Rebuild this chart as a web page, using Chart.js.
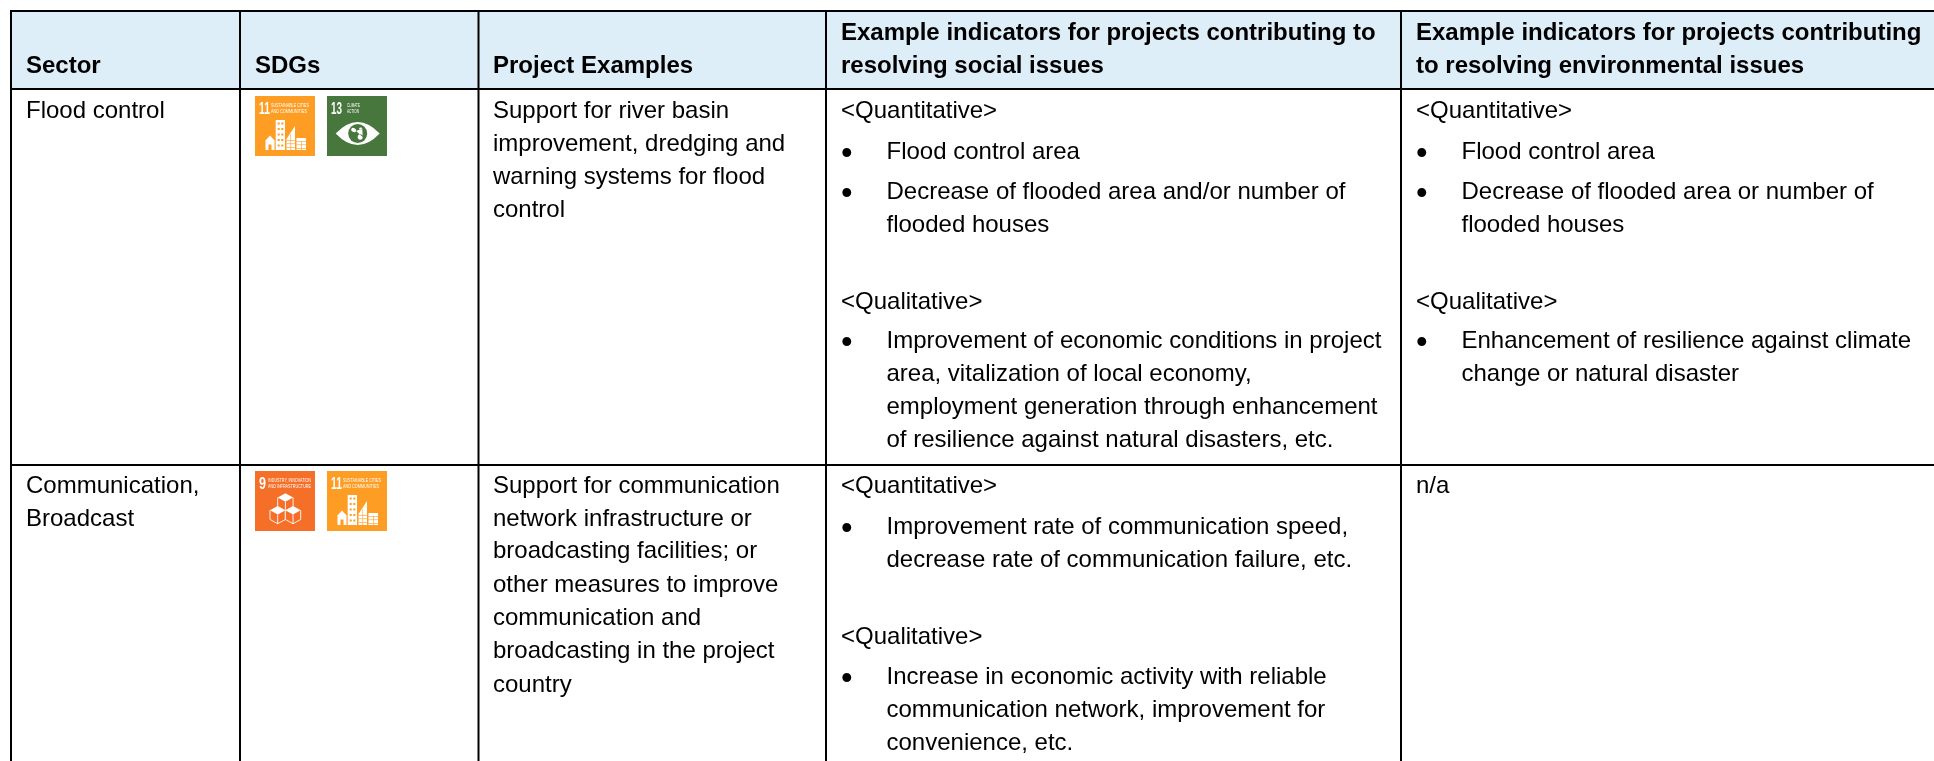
<!DOCTYPE html>
<html>
<head>
<meta charset="utf-8">
<title>Example indicators by sector</title>
<script src="https://cdn.jsdelivr.net/npm/chart.js@4"></script>
<style>
  html, body { margin: 0; padding: 0; background: #fff; overflow: hidden; }
  canvas { display: block; }
</style>
</head>
<body>
<canvas id="tabela" width="1934" height="761"></canvas>
<script>
// table content
const headers = [
  ["Sector"],
  ["SDGs"],
  ["Project Examples"],
  ["Example indicators for projects contributing to", "resolving social issues"],
  ["Example indicators for projects contributing", "to resolving environmental issues"]
];
const sectors = [
  ["Flood control"],
  ["Communication,", "Broadcast"]
];
const sdgs = [
  [11, 13],
  [9, 11]
];
const projects = [
  ["Support for river basin", "improvement, dredging and", "warning systems for flood", "control"],
  ["Support for communication", "network infrastructure or", "broadcasting facilities; or", "other measures to improve", "communication and", "broadcasting in the project", "country"]
];
const social = [
  ["<Quantitative>", "*Flood control area", "*Decrease of flooded area and/or number of", " flooded houses",
   "<Qualitative>", "*Improvement of economic conditions in project", " area, vitalization of local economy,", " employment generation through enhancement", " of resilience against natural disasters, etc."],
  ["<Quantitative>", "*Improvement rate of communication speed,", " decrease rate of communication failure, etc.",
   "<Qualitative>", "*Increase in economic activity with reliable", " communication network, improvement for", " convenience, etc."]
];
const environmental = [
  ["<Quantitative>", "*Flood control area", "*Decrease of flooded area or number of", " flooded houses",
   "<Qualitative>", "*Enhancement of resilience against climate", " change or natural disaster"],
  ["n/a"]
];

// grid and text baselines, in page units
const colEdges = [11, 240, 478.5, 826, 1401];
const rowEdges = [11, 89, 465];
const textX = [26, 255, 493, 841, 1416];
const headerBase = [[73], [73], [73], [40, 73], [40, 73]];
const sectorBase = [[118], [493, 526]];
const projectBase = [[118, 151, 184, 217], [493, 526, 558, 592, 625, 658, 692]];
const socialBase = [[118, 159, 199, 232, 309, 348, 381, 414, 447], [493, 534, 567, 644, 684, 717, 750]];
const envBase = [[118, 159, 199, 232, 309, 348, 381], [493]];
const tileX = [255, 327];
const tileTop = [96, 471];
const tileSize = 60;

const sdgColors = { 9: "#F56F28", 11: "#FD9D24", 13: "#48773E" };
const sdgTitles = {
  9: ["INDUSTRY, INNOVATION", "AND INFRASTRUCTURE"],
  11: ["SUSTAINABLE CITIES", "AND COMMUNITIES"],
  13: ["CLIMATE", "ACTION"]
};

const fontName = '"Liberation Sans", Arial, sans-serif';
const fontSize = 24;
const bulletSize = 33;
const rightEdge = 1934;
const bottomEdge = 761;

// header band, tiles and rules all go through the scales as line datasets
const datasets = [];
datasets.push({
  data: [{ x: colEdges[0], y: rowEdges[1] }, { x: rightEdge, y: rowEdges[1] }],
  fill: { value: rowEdges[0] }, backgroundColor: "#DDEEF8", borderWidth: 0, pointRadius: 0, order: 5
});
sdgs.forEach(function(lista, r) {
  lista.forEach(function(num, i) {
    datasets.push({
      data: [{ x: tileX[i], y: tileTop[r] + tileSize }, { x: tileX[i] + tileSize, y: tileTop[r] + tileSize }],
      fill: { value: tileTop[r] }, backgroundColor: sdgColors[num], borderWidth: 0, pointRadius: 0, order: 4
    });
  });
});
rowEdges.forEach(function(y) {
  datasets.push({
    data: [{ x: colEdges[0] - 1, y: y }, { x: rightEdge, y: y }],
    borderColor: "#000", borderWidth: 2, pointRadius: 0, order: 1
  });
});
colEdges.forEach(function(x) {
  datasets.push({
    data: [{ x: x, y: rowEdges[0] - 1 }, { x: x, y: bottomEdge }],
    borderColor: "#000", borderWidth: 2, pointRadius: 0, order: 1
  });
});

// white building blocks of goal 11
function drawCity(ctx, x, y, bg) {
  ctx.fillStyle = "#fff";
  ctx.fillRect(x + 20.7, y + 24, 9.3, 30);
  ctx.fillRect(x + 10.5, y + 45, 9, 9);
  ctx.beginPath();
  ctx.moveTo(x + 10, y + 45); ctx.lineTo(x + 15, y + 39.5); ctx.lineTo(x + 20, y + 45);
  ctx.fill();
  ctx.beginPath();
  ctx.moveTo(x + 31.5, y + 43); ctx.lineTo(x + 40, y + 30); ctx.lineTo(x + 40, y + 54); ctx.lineTo(x + 31.5, y + 54);
  ctx.fill();
  ctx.fillRect(x + 41.5, y + 42, 9.5, 12);
  ctx.fillStyle = bg;
  ctx.fillRect(x + 13.5, y + 48.5, 3, 5.5);
  for (let a = 0; a < 5; a++) {
    ctx.fillRect(x + 22.7, y + 26.5 + a * 5.5, 2, 2);
    ctx.fillRect(x + 26.3, y + 26.5 + a * 5.5, 2, 2);
  }
  for (let a = 0; a < 3; a++) {
    ctx.fillRect(x + 31.5, y + 44 + a * 3.5, 8.5, 0.6);
    ctx.fillRect(x + 41.5, y + 45 + a * 3.5, 9.5, 0.6);
  }
  ctx.fillRect(x + 35.5, y + 38, 0.6, 16);
  ctx.fillRect(x + 46, y + 45, 0.6, 9);
}

function drawEye(ctx, x, y, bg) {
  const cx = x + 30.7, cy = y + 37.5;
  ctx.fillStyle = "#fff";
  ctx.beginPath();
  ctx.moveTo(cx - 22, cy);
  ctx.quadraticCurveTo(cx, cy - 23, cx + 22, cy);
  ctx.quadraticCurveTo(cx, cy + 23, cx - 22, cy);
  ctx.fill();
  ctx.fillStyle = bg;
  ctx.beginPath();
  ctx.arc(cx, cy, 9.5, 0, Math.PI * 2);
  ctx.fill();
  ctx.fillStyle = "#fff";
  ctx.beginPath();
  ctx.ellipse(cx - 4, cy - 3.5, 2.6, 2, 0.4, 0, Math.PI * 2);
  ctx.ellipse(cx + 2.5, cy + 3.5, 2.5, 2.8, 0, 0, Math.PI * 2);
  ctx.ellipse(cx + 3, cy - 5, 1.6, 1.1, 0, 0, Math.PI * 2);
  ctx.fill();
}

function drawCube(ctx, cx, top, s, bg) {
  const h = s * 0.55;
  const edge = s * 1.2;
  ctx.fillStyle = bg;
  ctx.beginPath();
  ctx.moveTo(cx, top); ctx.lineTo(cx + s, top + h); ctx.lineTo(cx + s, top + h + edge);
  ctx.lineTo(cx, top + 2 * h + edge); ctx.lineTo(cx - s, top + h + edge); ctx.lineTo(cx - s, top + h);
  ctx.closePath();
  ctx.fill();
  ctx.fillStyle = "#fff";
  ctx.beginPath();
  ctx.moveTo(cx, top); ctx.lineTo(cx + s, top + h); ctx.lineTo(cx, top + 2 * h); ctx.lineTo(cx - s, top + h);
  ctx.closePath();
  ctx.fill();
  ctx.strokeStyle = "#fff";
  ctx.lineWidth = 0.9;
  ctx.beginPath();
  ctx.moveTo(cx - s, top + h); ctx.lineTo(cx - s, top + h + edge); ctx.lineTo(cx, top + 2 * h + edge);
  ctx.lineTo(cx + s, top + h + edge); ctx.lineTo(cx + s, top + h);
  ctx.moveTo(cx, top + 2 * h); ctx.lineTo(cx, top + 2 * h + edge);
  ctx.stroke();
}

function drawTile(ctx, num, x, y) {
  const wide = num === 9;
  ctx.fillStyle = "#fff";
  ctx.textAlign = "left";
  ctx.textBaseline = "alphabetic";
  ctx.font = "bold 16px " + fontName;
  ctx.fillText(String(num), x + 4, y + 17.5, num === 9 ? 7 : 11);
  ctx.font = "5.4px " + fontName;
  const tx = x + (wide ? 13 : (num === 13 ? 20 : 16));
  const tw = wide ? 43 : (num === 13 ? 13 : 38);
  ctx.fillText(sdgTitles[num][0], tx, y + 10.5, tw);
  ctx.fillText(sdgTitles[num][1], tx, y + 17, num === 13 ? 12 : (wide ? 43 : 36));
  if (num === 11) drawCity(ctx, x, y, sdgColors[num]);
  if (num === 13) drawEye(ctx, x, y, sdgColors[num]);
  if (num === 9) {
    drawCube(ctx, x + 30.4, y + 22.3, 7.7, sdgColors[num]);
    drawCube(ctx, x + 22.7, y + 35, 7.7, sdgColors[num]);
    drawCube(ctx, x + 38, y + 35, 7.7, sdgColors[num]);
  }
}

function drawLines(chart, col, lines, bases) {
  const ctx = chart.ctx;
  const sx = chart.scales.x, sy = chart.scales.y;
  lines.forEach(function(linha, i) {
    const y = sy.getPixelForValue(bases[i]);
    const x = sx.getPixelForValue(textX[col]);
    const marker = linha.charAt(0);
    if (marker === "*" || marker === " ") {
      if (marker === "*") {
        const oldFont = ctx.font;
        ctx.font = bulletSize + "px " + fontName;
        ctx.fillText("\u2022", x, y + 5);
        ctx.font = oldFont;
      }
      ctx.fillText(linha.slice(1), x + 45.5, y);
    } else {
      ctx.fillText(linha, x, y);
    }
  });
}

const tablePlugin = {
  id: "tablePlugin",
  afterDatasetsDraw: function(chart) {
    const ctx = chart.ctx;
    ctx.save();
    ctx.textAlign = "left";
    ctx.textBaseline = "alphabetic";
    ctx.fillStyle = "#000";
    ctx.font = "bold " + fontSize + "px " + fontName;
    headers.forEach(function(h, c) { drawLines(chart, c, h, headerBase[c]); });
    ctx.font = fontSize + "px " + fontName;
    for (let r = 0; r < sectors.length; r++) {
      drawLines(chart, 0, sectors[r], sectorBase[r]);
      drawLines(chart, 2, projects[r], projectBase[r]);
      drawLines(chart, 3, social[r], socialBase[r]);
      drawLines(chart, 4, environmental[r], envBase[r]);
    }
    sdgs.forEach(function(lista, r) {
      lista.forEach(function(num, i) {
        ctx.save();
        drawTile(ctx, num, chart.scales.x.getPixelForValue(tileX[i]), chart.scales.y.getPixelForValue(tileTop[r]));
        ctx.restore();
      });
    });
    ctx.restore();
  }
};

const tabela = new Chart(document.getElementById("tabela"), {
  type: "line",
  data: { datasets: datasets },
  plugins: [tablePlugin],
  options: {
    responsive: false,
    animation: false,
    parsing: false,
    layout: { padding: 0 },
    plugins: { legend: { display: false }, tooltip: { enabled: false } },
    scales: {
      x: { type: "linear", min: 0, max: rightEdge, display: false },
      y: { type: "linear", min: 0, max: bottomEdge, reverse: true, display: false }
    }
  }
});
</script>
</body>
</html>
